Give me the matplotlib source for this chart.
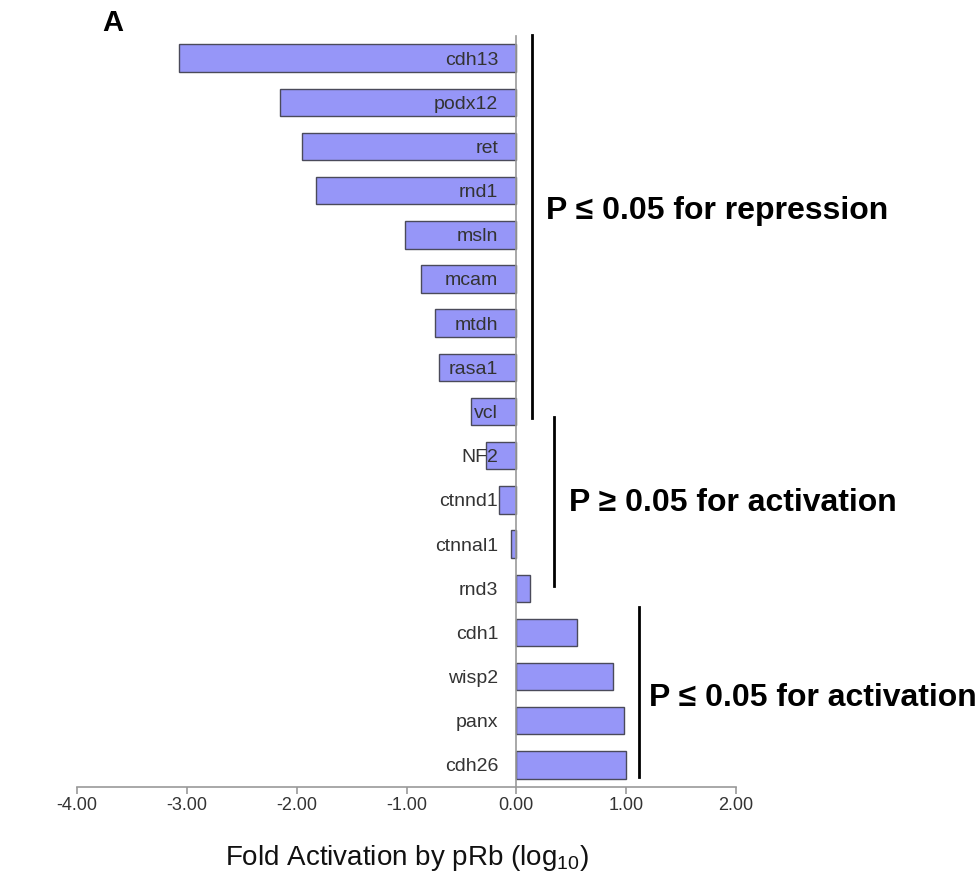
import matplotlib
matplotlib.use("Agg")
import matplotlib.pyplot as plt
import numpy as np

plt.rcParams['font.family'] = ['Liberation Sans', 'DejaVu Sans']
plt.rcParams['mathtext.default'] = 'regular'

genes = ["cdh13", "podx12", "ret", "rnd1", "msln", "mcam", "mtdh", "rasa1", "vcl",
         "NF2", "ctnnd1", "ctnnal1", "rnd3", "cdh1", "wisp2", "panx", "cdh26"]
values = [-3.07, -2.15, -1.95, -1.82, -1.01, -0.87, -0.74, -0.70, -0.41,
          -0.28, -0.16, -0.05, 0.12, 0.55, 0.88, 0.98, 1.00]
xticks = [-4, -3, -2, -1, 0, 1, 2]
xticklabels = ["-4.00", "-3.00", "-2.00", "-1.00", "0.00", "1.00", "2.00"]
groups = ["P \u2264 0.05 for repression", "P \u2265 0.05 for activation", "P \u2264 0.05 for activation"]

fig = plt.figure(figsize=(9.78, 8.81), dpi=100)
ax = fig.add_axes([0.0787, 0.1067, 0.6739, 0.8524])

pos = np.arange(len(genes))
ax.barh(pos, values, height=0.62, color="#9696F8", edgecolor="#4a4a5a", linewidth=1.0, zorder=1)

ax.set_xlim(-4, 2)
ax.set_ylim(len(genes) - 0.5, -0.5)

for s in ["top", "right"]:
    ax.spines[s].set_visible(False)
ax.spines["left"].set_position(("data", 0))
ax.spines["left"].set_color("#999999")
ax.spines["left"].set_linewidth(1.2)
ax.spines["bottom"].set_color("#999999")
ax.spines["bottom"].set_linewidth(1.2)

ax.set_yticks(pos)
ax.set_yticklabels(genes, fontsize=14, color="#333333")
ax.tick_params(axis="y", length=0, pad=13)
ax.set_xticks(xticks)
ax.set_xticklabels(xticklabels, fontsize=13, color="#333333")
ax.tick_params(axis="x", direction="out", length=5, width=1.2, color="#999999", pad=2)

ax.set_xlabel("Fold Activation by pRb (log$_{10}$)", fontsize=20, color="#111111", labelpad=21)

# group annotation lines and texts
ax.plot([0.145, 0.145], [-0.52, 8.15], color="black", lw=2, clip_on=False)
ax.plot([0.34, 0.34], [8.12, 11.95], color="black", lw=2, clip_on=False)
ax.plot([1.12, 1.12], [12.42, 16.27], color="black", lw=2, clip_on=False)

ax.text(0.27, 3.46, groups[0], fontsize=23, fontweight="bold", va="center", ha="left", clip_on=False)
ax.text(0.48, 10.07, groups[1], fontsize=23, fontweight="bold", va="center", ha="left", clip_on=False)
ax.text(1.21, 14.48, groups[2], fontsize=23, fontweight="bold", va="center", ha="left", clip_on=False)

fig.text(102 / 978, 1 - 23 / 881, "A", fontsize=21, fontweight="bold", va="center", ha="left")

fig.savefig("out.png", dpi=100)
